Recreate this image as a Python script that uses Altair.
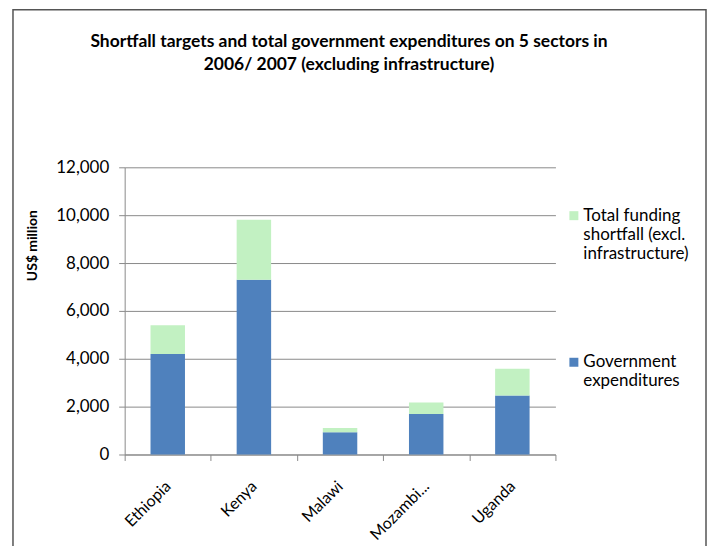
import altair as alt
import pandas as pd

countries = ["Ethiopia", "Kenya", "Malawi", "Mozambique", "Uganda"]
gov_expenditures = [4200, 7300, 930, 1690, 2470]
funding_shortfall = [1200, 2510, 180, 485, 1110]
series_names = ["Government expenditures", "Total funding shortfall (excl. infrastructure)"]
y_tick_values = [0, 2000, 4000, 6000, 8000, 10000, 12000]
title_lines = ["Shortfall targets and total government expenditures on 5 sectors in",
               "2006/ 2007 (excluding infrastructure)"]

rows = []
for c, g, s in zip(countries, gov_expenditures, funding_shortfall):
    rows.append({"country": c, "series": series_names[0], "value": g, "order": 0})
    rows.append({"country": c, "series": series_names[1], "value": s, "order": 1})
df = pd.DataFrame(rows)

FONT = "Lato"
GRAY = "#8a8a8a"
NB = "\u00a0"

legend_expr = ("datum.label == 'Government expenditures' ? ['Government', 'expenditures', '" + NB + "'] : "
               "['Total funding', 'shortfall (excl.', 'infrastructure)']")

bars = alt.Chart(df).mark_bar(width=alt.RelativeBandSize(0.4)).encode(
    x=alt.X("country:N", sort=countries,
            scale=alt.Scale(paddingInner=0, paddingOuter=0),
            axis=alt.Axis(title=None, labelAngle=315, labelAlign="right", labelBaseline="middle",
                          labelFont=FONT, labelFontSize=16, labelColor="black", labelPadding=23,
                          tickBand="extent", tickSize=6, tickColor=GRAY, domainColor=GRAY,
                          grid=False,
                          labelExpr="datum.label == 'Mozambique' ? 'Mozambi...' : datum.label")),
    y=alt.Y("value:Q", stack="zero",
            scale=alt.Scale(domain=[0, 12000], nice=False),
            axis=alt.Axis(values=y_tick_values, format=",d", title="US$ million",
                          titleFont=FONT, titleFontSize=14, titleFontWeight="bold", titleColor="black",
                          titleAngle=270, titleX=-92, titleY=78, titleAlign="center", titleBaseline="middle",
                          labelFont=FONT, labelFontSize=17, labelColor="black", labelPadding=10,
                          tickSize=6, tickColor=GRAY, domainColor=GRAY,
                          grid=True, gridColor=GRAY, gridWidth=1)),
    color=alt.Color("series:N",
                    scale=alt.Scale(domain=[series_names[1], series_names[0]],
                                    range=["#c2f1c2", "#4f81bd"]),
                    legend=alt.Legend(title=None, orient="none", legendX=442, legendY=40,
                                      symbolType="square", symbolSize=81, symbolStrokeWidth=0,
                                      labelFont=FONT, labelFontSize=17, labelColor="black",
                                      labelOffset=1, labelLimit=300, rowPadding=91,
                                      labelExpr=legend_expr)),
    order=alt.Order("order:Q"),
)

border = alt.Chart(pd.DataFrame({"a": [0]})).mark_rect(
    fill=None, stroke="#555555", strokeWidth=1.5
).encode(x=alt.value(-112), x2=alt.value(583), y=alt.value(-158), y2=alt.value(420))

chart = alt.layer(border, bars).properties(
    width=432, height=288,
    autosize=alt.AutoSizeParams(type="none"),
    padding={"left": 117, "top": 159, "right": 152, "bottom": 91},
    title=alt.TitleParams(text=title_lines, font=FONT, fontSize=17.5, fontWeight="bold",
                          color="black", anchor="middle", frame="group", offset=0, dx=9, dy=65,
                          lineHeight=23),
).configure_view(stroke=None)

chart.save("out.html", embed_options={"renderer": "svg", "actions": False})
